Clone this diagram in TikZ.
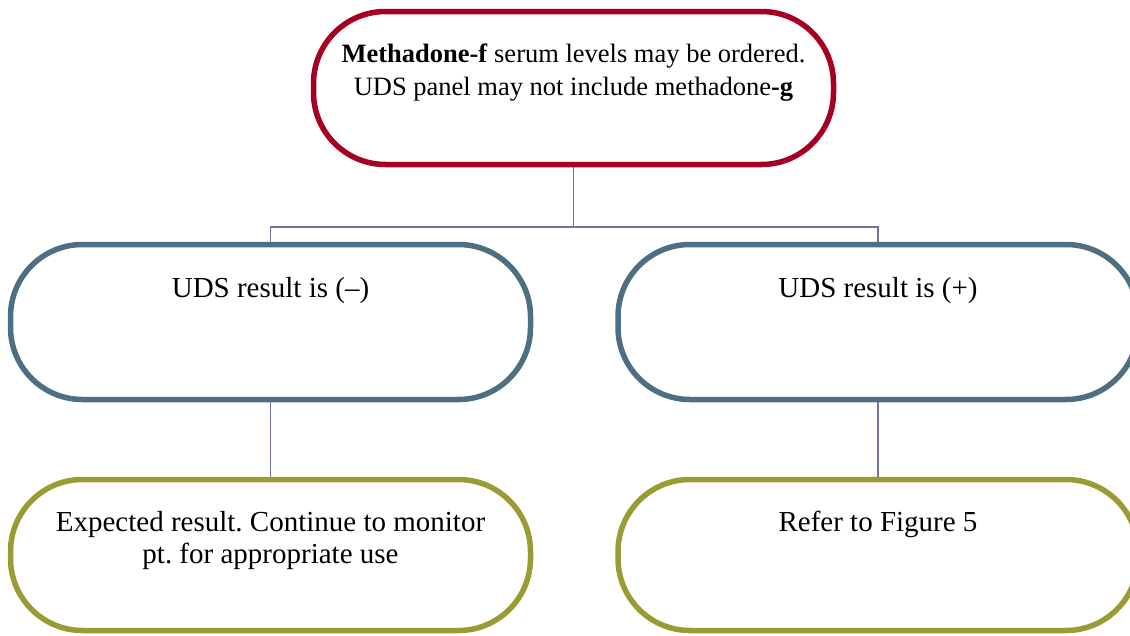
\documentclass[tikz,border=0pt]{standalone}
\usepackage{fontspec}
\setmainfont{Liberation Serif}
\usetikzlibrary{calc,backgrounds}
\definecolor{topred}{HTML}{A50021}
\definecolor{midblue}{HTML}{4E6E82}
\definecolor{botolive}{HTML}{9B9B34}
\definecolor{conn}{HTML}{7272A8}
\begin{document}
\frenchspacing
\begin{tikzpicture}[x=1pt,y=-1pt,
  box/.style={draw, line width=5.5pt, rounded corners=72pt, minimum width=520pt, inner sep=0pt, fill=white},
  txt/.style={font=\fontsize{29}{32}\selectfont, align=center, inner sep=0pt},
  toptext/.style={txt, font=\fontsize{26.5}{33}\selectfont},
  link/.style={draw=conn, line width=1.8pt}]
\useasboundingbox (0,0) rectangle (1130,635);
\node[box, draw=topred, minimum height=153pt] (top) at (573.5,88) {};
\node[box, draw=midblue, minimum height=155pt] (neg) at (270.5,322) {};
\node[box, draw=midblue, minimum height=155pt] (pos) at (878,322) {};
\node[box, draw=botolive, minimum height=151pt] (exp) at (270.5,555) {};
\node[box, draw=botolive, minimum height=151pt] (ref) at (878,555) {};
\coordinate (j) at ($(top.south)+(0,59.5)$);
\begin{scope}[on background layer]
  \draw[link] (top.south) -- (j);
  \draw[link] (neg.north) |- (j) -| (pos.north);
  \draw[link] (neg.south) -- (exp.north);
  \draw[link] (pos.south) -- (ref.north);
\end{scope}
\node[toptext, anchor=base] (toptxt) at (573.5,95) {\textbf{Methadone-f} serum levels may be ordered.\\UDS panel may not include methadone\textbf{-g}};
\node[txt, anchor=base] (negtxt) at (270.5,297) {UDS result is (–)};
\node[txt, anchor=base] (postxt) at (878,297) {UDS result is (+)};
\node[txt, anchor=base] (exptxt) at (270.5,563) {Expected result. Continue to monitor\\pt. for appropriate use};
\node[txt, anchor=base] (reftxt) at (878,531) {Refer to Figure 5};
\end{tikzpicture}
\end{document}
